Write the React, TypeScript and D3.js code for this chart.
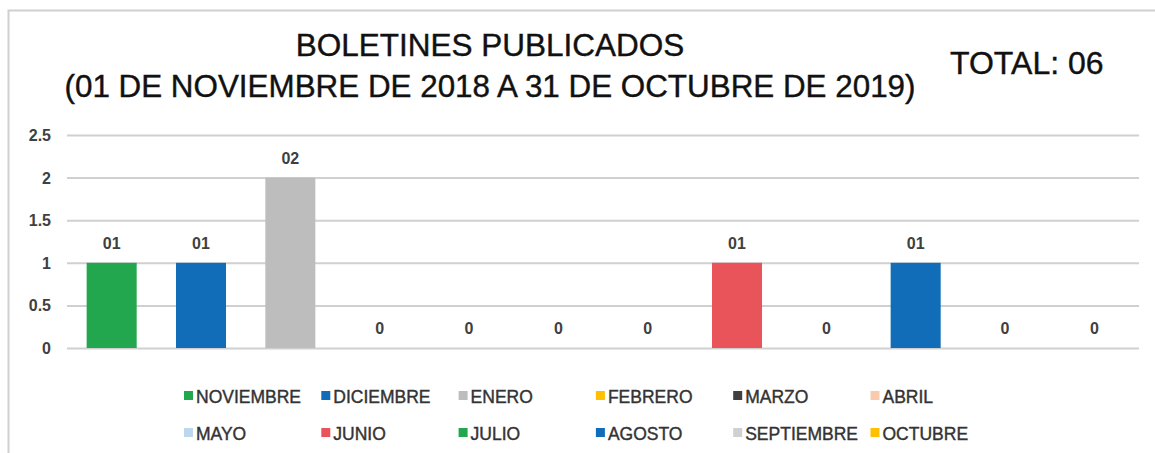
import React, { useEffect, useRef } from 'react';
import * as d3 from 'd3';

// data
const months = ['NOVIEMBRE', 'DICIEMBRE', 'ENERO', 'FEBRERO', 'MARZO', 'ABRIL',
  'MAYO', 'JUNIO', 'JULIO', 'AGOSTO', 'SEPTIEMBRE', 'OCTUBRE'];
const values = [1, 1, 2, 0, 0, 0, 0, 1, 0, 1, 0, 0];
const valueLabels = ['01', '01', '02', '0', '0', '0', '0', '01', '0', '01', '0', '0'];
const colors = ['#22a64e', '#116db8', '#bdbdbd', '#ffc000', '#404040', '#f8cbad',
  '#bdd7ee', '#e9535a', '#22a64e', '#116db8', '#d0d0d0', '#ffc000'];
const yTicks = [0, 0.5, 1, 1.5, 2, 2.5];

const W = 1155;
const H = 453;
const FONT = 'Liberation Sans, Arial, sans-serif';

const App = () => {
  const node = useRef<SVGSVGElement>(null);

  useEffect(() => {
    const svg = d3.select(node.current);
    svg.selectAll('*').remove();

    // frame (left + top visible)
    svg.append('rect')
      .attr('x', 8.5).attr('y', 10.5)
      .attr('width', W).attr('height', H)
      .attr('fill', 'white')
      .attr('stroke', '#d0d0d0')
      .attr('stroke-width', 2);

    // titles
    const title = svg.append('g')
      .attr('font-family', FONT)
      .attr('fill', '#111')
      .attr('stroke', '#111')
      .attr('stroke-width', 0.4);
    title.append('text')
      .attr('x', 490).attr('y', 56)
      .attr('text-anchor', 'middle')
      .attr('font-size', 31.5)
      .text('BOLETINES PUBLICADOS');
    title.append('text')
      .attr('x', 490).attr('y', 97)
      .attr('text-anchor', 'middle')
      .attr('font-size', 31)
      .attr('textLength', 851)
      .attr('lengthAdjust', 'spacingAndGlyphs')
      .text('(01 DE NOVIEMBRE DE 2018 A 31 DE OCTUBRE DE 2019)');
    title.append('text')
      .attr('x', 950).attr('y', 74)
      .attr('font-size', 32)
      .text('TOTAL: 06');

    // scales
    const x = d3.scaleBand<string>()
      .domain(months)
      .range([67, 1139])
      .paddingInner(0.44)
      .paddingOuter(0.22);
    const y = d3.scaleLinear().domain([0, 2.5]).range([348, 135]);

    // grid
    const grid = svg.append('g')
      .attr('transform', 'translate(67,0)')
      .call(d3.axisLeft(y).tickValues(yTicks).tickSize(-(1139 - 67)).tickFormat(() => ''));
    grid.select('.domain').remove();
    grid.selectAll('line').attr('stroke', '#d0d0d0').attr('stroke-width', 2);

    // y labels
    svg.append('g')
      .selectAll('text')
      .data(yTicks)
      .join('text')
      .attr('x', 51)
      .attr('y', d => y(d) + 6)
      .attr('text-anchor', 'end')
      .attr('font-family', FONT)
      .attr('font-size', 16)
      .attr('font-weight', 'bold')
      .attr('fill', '#404040')
      .text(d => String(d));

    // bars
    svg.append('g')
      .selectAll('rect')
      .data(months)
      .join('rect')
      .attr('x', d => x(d)!)
      .attr('width', x.bandwidth())
      .attr('y', (d, i) => y(values[i]))
      .attr('height', (d, i) => y(0) - y(values[i]))
      .attr('fill', (d, i) => colors[i]);

    // value labels
    svg.append('g')
      .selectAll('text')
      .data(months)
      .join('text')
      .attr('x', d => x(d)! + x.bandwidth() / 2)
      .attr('y', (d, i) => y(values[i]) - 14)
      .attr('text-anchor', 'middle')
      .attr('font-family', FONT)
      .attr('font-size', 16)
      .attr('font-weight', 'bold')
      .attr('fill', '#404040')
      .text((d, i) => valueLabels[i]);

    // legend
    const legend = svg.append('g')
      .selectAll('g')
      .data(months)
      .join('g')
      .attr('transform', (d, i) => `translate(${184 + (i % 6) * 137.3}, ${i < 6 ? 396 : 433})`);
    legend.append('rect')
      .attr('x', 0).attr('y', -5)
      .attr('width', 9).attr('height', 9)
      .attr('fill', (d, i) => colors[i]);
    legend.append('text')
      .attr('x', 12).attr('y', 6.5)
      .attr('font-family', FONT)
      .attr('font-size', 17.5)
      .attr('fill', '#333')
      .attr('stroke', '#333')
      .attr('stroke-width', 0.4)
      .text(d => d);
  }, []);

  return (
    <svg
      ref={node}
      width={W}
      height={H}
      style={{ position: 'absolute', left: 0, top: 0 }}
    />
  );
};

export default App;
